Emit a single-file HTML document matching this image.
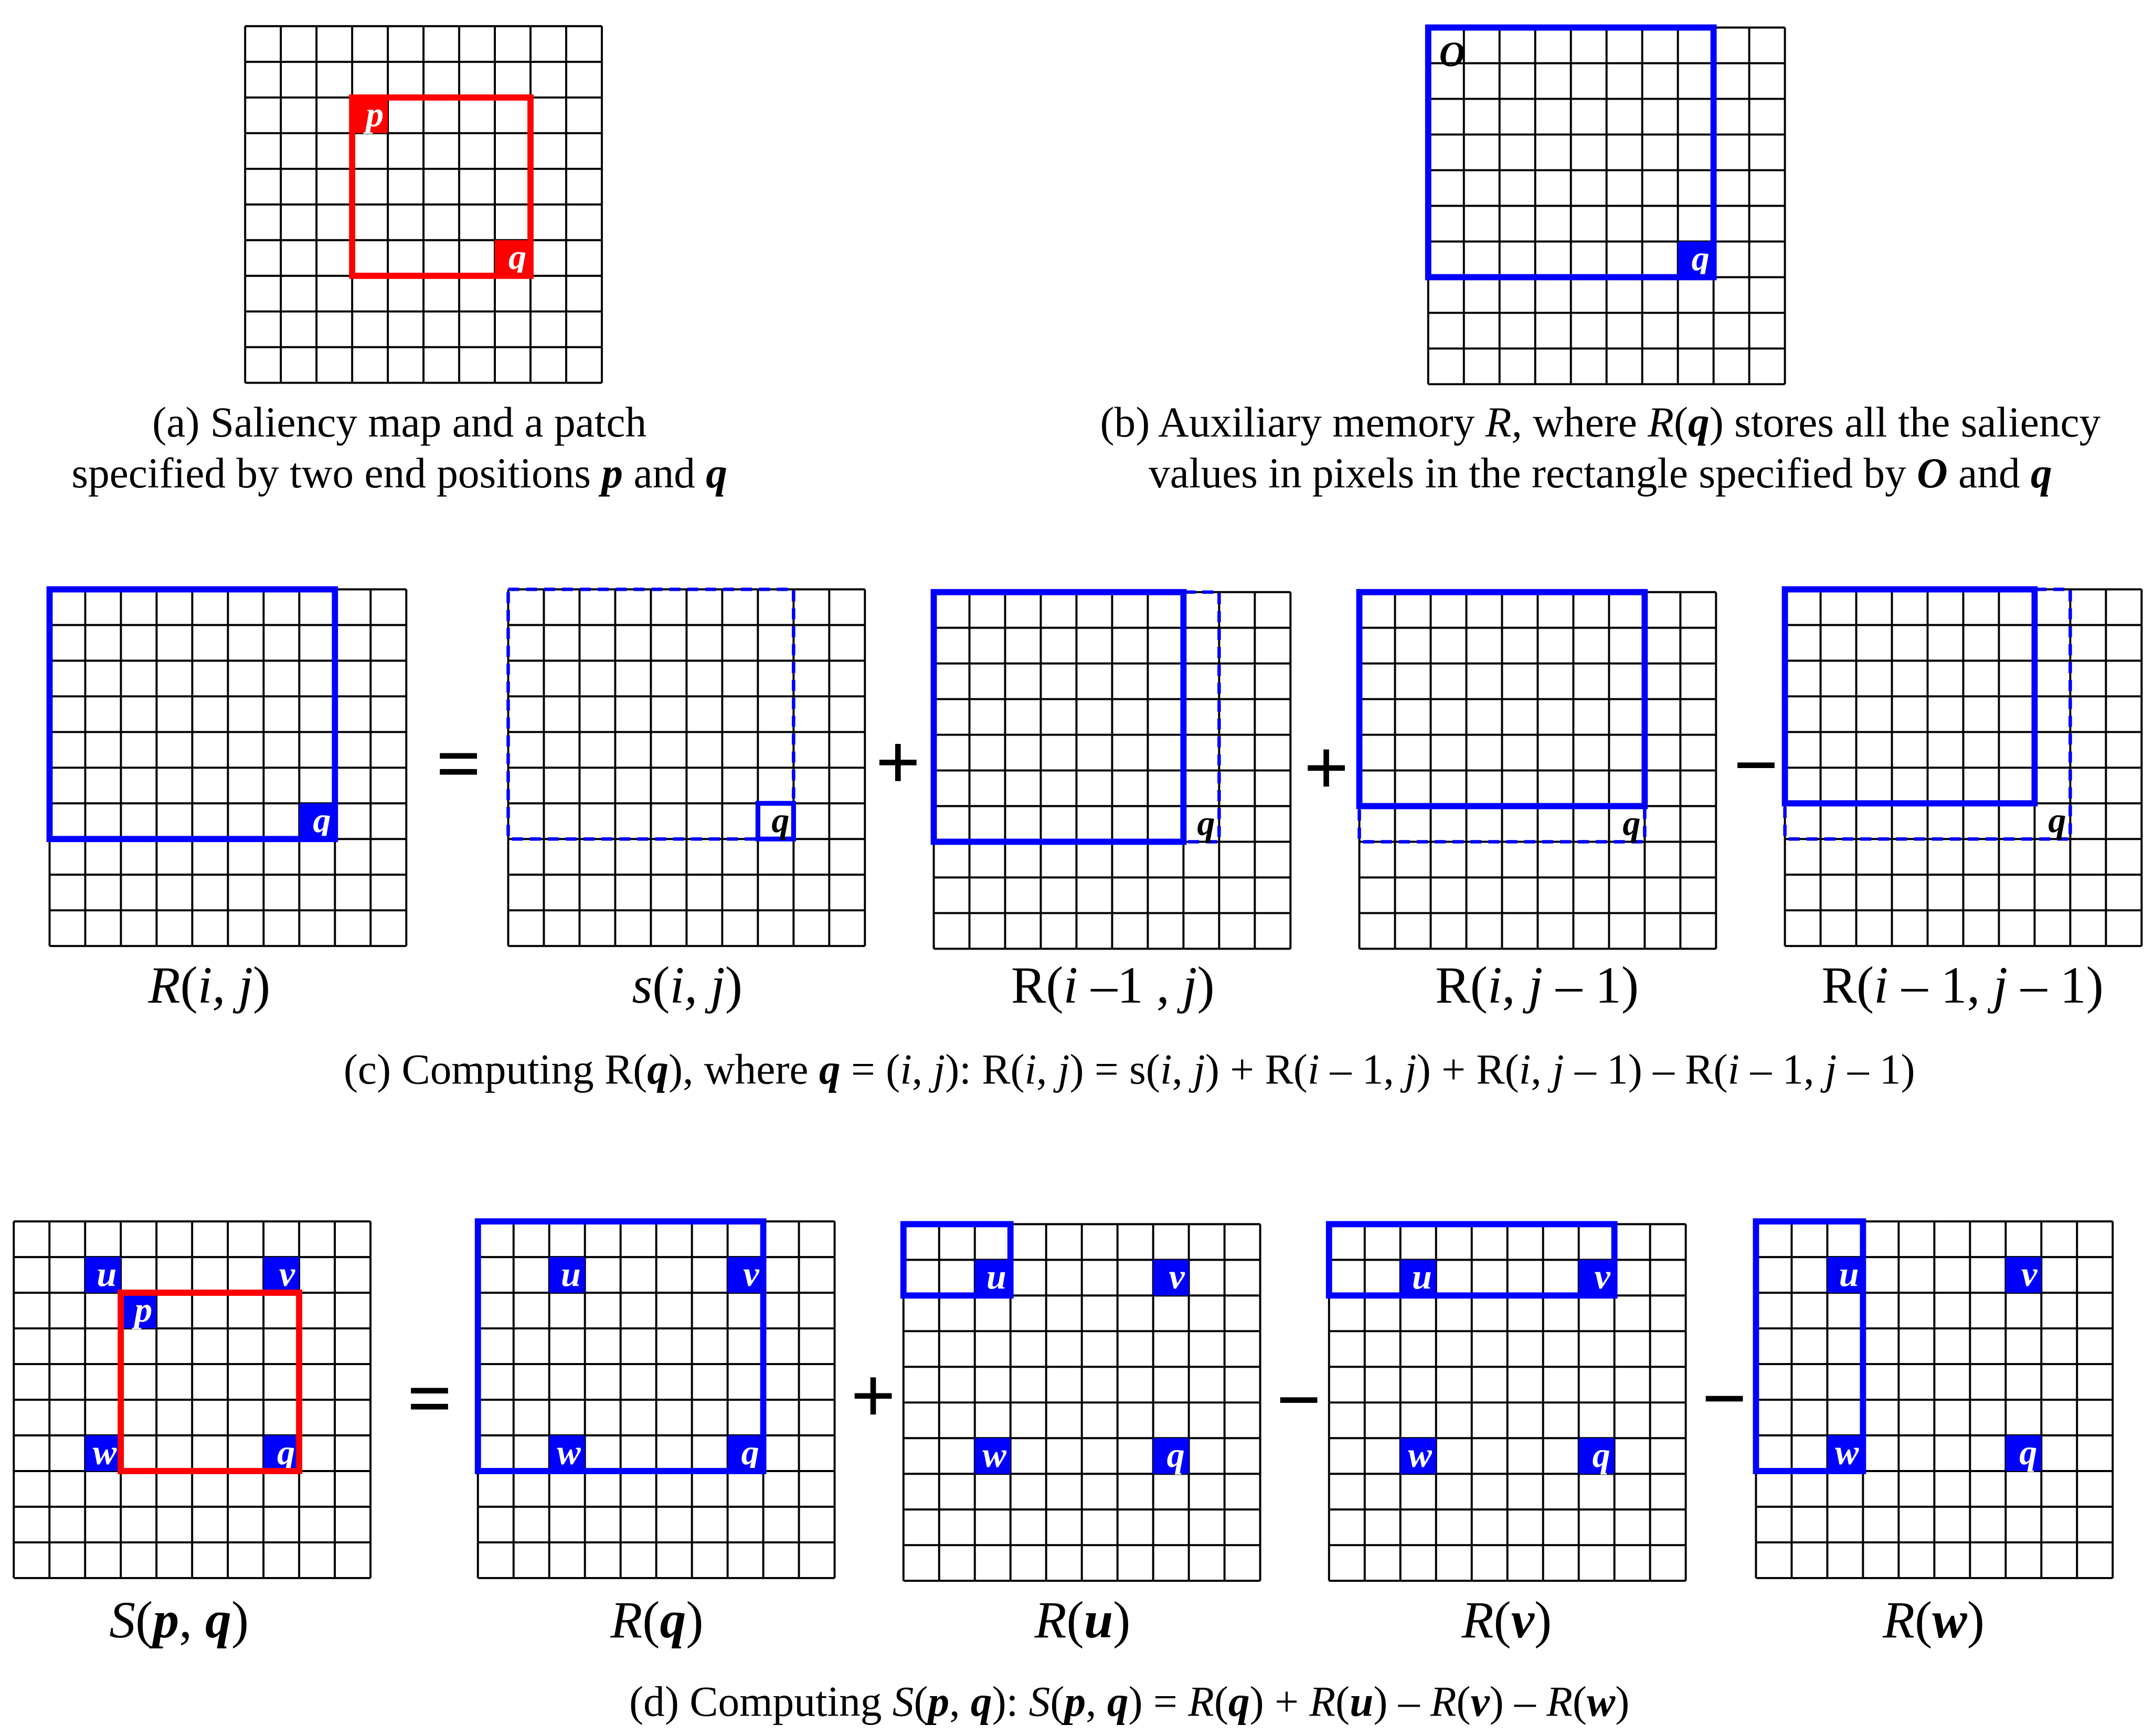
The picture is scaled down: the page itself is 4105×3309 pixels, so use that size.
<!DOCTYPE html>
<html><head><meta charset="utf-8"><style>
html,body{margin:0;padding:0;background:#fff;}
svg{display:block;}
text{font-family:"Liberation Serif",serif;}
</style></head><body>
<svg id="s" width="4105" height="3309" viewBox="0 0 1564 1260.7" preserveAspectRatio="none" xmlns="http://www.w3.org/2000/svg"></svg>
<script>
var s=document.getElementById('s'),o='';
var C=25.9;
function grid(x,y){
  for(var i=0;i<=10;i++){
    o+='<line x1="'+(x+i*C)+'" y1="'+y+'" x2="'+(x+i*C)+'" y2="'+(y+10*C)+'" stroke="#000" stroke-width="1.5"/>';
    o+='<line x1="'+x+'" y1="'+(y+i*C)+'" x2="'+(x+10*C)+'" y2="'+(y+i*C)+'" stroke="#000" stroke-width="1.5"/>';
  }
}
function cell(x,y,c,r,col,l,tc){
  if(col)o+='<rect x="'+(x+c*C)+'" y="'+(y+r*C)+'" width="'+C+'" height="'+C+'" fill="'+col+'"/>';
  if(l)o+='<text x="'+(x+c*C+C-3)+'" y="'+(y+r*C+C-5)+'" text-anchor="end" font-size="26" font-style="italic" font-weight="bold" fill="'+(tc||'#fff')+'">'+l+'</text>';
}
function rect(x,y,c0,r0,c1,r1,col,w,dash){
  o+='<rect x="'+(x+c0*C)+'" y="'+(y+r0*C)+'" width="'+((c1-c0)*C)+'" height="'+((r1-r0)*C)+'" fill="none" stroke="'+col+'" stroke-width="'+w+'"'+(dash?' stroke-dasharray="8,5"':'')+'/>';
}
function t(x,y,txt,sz,anchor){o+='<text x="'+x+'" y="'+y+'" font-size="'+sz+'" text-anchor="'+(anchor||'middle')+'">'+txt+'</text>';}
function op(x,y,ch){o+='<text x="'+x+'" y="'+y+'" font-size="58" font-weight="bold" text-anchor="middle" font-family="Liberation Sans">'+ch+'</text>';}
var B='#0000ff',R='#ff0000';
var I=function(x){return '<tspan font-style="italic">'+x+'</tspan>';};
var BI=function(x){return '<tspan font-weight="bold" font-style="italic">'+x+'</tspan>';};
// (a)
grid(178,19);cell(178,19,3,2,R,'p');cell(178,19,7,6,R,'q');rect(178,19,3,2,8,7,R,4.5);
t(290,317,'(a) Saliency map and a patch',31);
t(290,354,'specified by two end positions '+BI('p')+' and '+BI('q'),31);
// (b)
grid(1037,20);cell(1037,20,7,6,B,'q');rect(1037,20,0,0,8,7,B,4.5);
o+='<text x="1045" y="48" font-size="26" font-style="italic" font-weight="bold">O</text>';
t(1162,317,'(b) Auxiliary memory '+I('R,')+' where '+I('R')+'('+BI('q')+') stores all the saliency',31);
t(1162,354,'values in pixels in the rectangle specified by '+BI('O')+' and '+BI('q'),31);
// (c)
var cy=428;
grid(36,cy);cell(36,cy,7,6,B,'q');rect(36,cy,0,0,8,7,B,4.5);
op(333,574,'=');
grid(369,cy);rect(369,cy,0,0,8,7,B,2.5,1);rect(369,cy,7,6,8,7,B,3.5);cell(369,cy,7,6,null,'q','#000');
op(652,573,'+');
grid(678,430);rect(678,430,0,0,8,7,B,2.5,1);rect(678,430,0,0,7,7,B,4.5);cell(678,430,7,6,null,'q','#000');
op(963,577,'+');
grid(987,430);rect(987,430,0,0,8,7,B,2.5,1);rect(987,430,0,0,8,6,B,4.5);cell(987,430,7,6,null,'q','#000');
op(1275,575,'−');
grid(1296,cy);rect(1296,cy,0,0,8,7,B,2.5,1);rect(1296,cy,0,0,7,6,B,4.5);cell(1296,cy,7,6,null,'q','#000');
var L=38;
t(152,728,I('R')+'('+I('i, j')+')',L);
t(499,728,I('s')+'('+I('i, j')+')',L);
t(808,728,'R('+I('i')+' –1 , '+I('j')+')',L);
t(1116,728,'R('+I('i')+', '+I('j')+' – 1)',L);
t(1425,728,'R('+I('i')+' – 1, '+I('j')+' – 1)',L);
t(820,787,'(c) Computing R('+BI('q')+'), where '+BI('q')+' = ('+I('i')+', '+I('j')+'): R('+I('i')+', '+I('j')+') = s('+I('i')+', '+I('j')+') + R('+I('i')+' – 1, '+I('j')+') + R('+I('i')+', '+I('j')+' – 1) – R('+I('i')+' – 1, '+I('j')+' – 1)',31);
// (d)
function uvwq(x,y){cell(x,y,2,1,B,'u');cell(x,y,7,1,B,'v');cell(x,y,2,6,B,'w');cell(x,y,7,6,B,'q');}
grid(10,887);uvwq(10,887);cell(10,887,3,2,B,'p');rect(10,887,3,2,8,7,R,4.5);
op(312,1035,'=');
grid(347,887);uvwq(347,887);rect(347,887,0,0,8,7,B,4.5);
op(634,1033,'+');
grid(656,889);uvwq(656,889);rect(656,889,0,0,3,2,B,4.5);
op(943,1036,'−');
grid(965,889);uvwq(965,889);rect(965,889,0,0,8,2,B,4.5);
op(1252,1035,'−');
grid(1275,887);uvwq(1275,887);rect(1275,887,0,0,3,7,B,4.5);
t(130,1189,I('S')+'('+BI('p')+', '+BI('q')+')',L);
t(477,1189,I('R')+'('+BI('q')+')',L);
t(786,1189,I('R')+'('+BI('u')+')',L);
t(1094,1189,I('R')+'('+BI('v')+')',L);
t(1404,1189,I('R')+'('+BI('w')+')',L);
t(820,1246,'(d) Computing '+I('S')+'('+BI('p')+', '+BI('q')+'): '+I('S')+'('+BI('p')+', '+BI('q')+') = '+I('R')+'('+BI('q')+') + '+I('R')+'('+BI('u')+') – '+I('R')+'('+BI('v')+') – '+I('R')+'('+BI('w')+')',31);
s.innerHTML=o;
</script>
</body></html>
